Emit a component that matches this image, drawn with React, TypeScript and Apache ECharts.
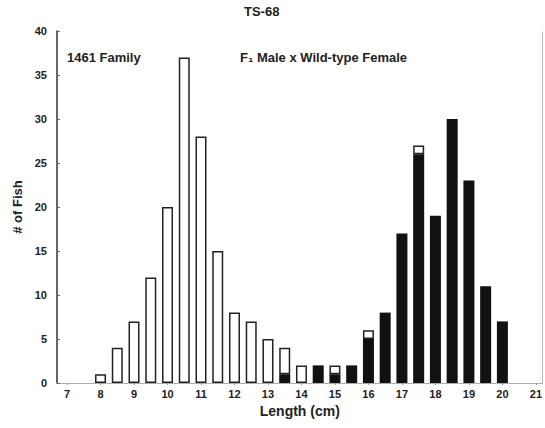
import React, { useEffect, useRef } from "react";
import * as echarts from "echarts";

// Length bins (cm), one bar per half centimetre
const lengths = [8, 8.5, 9, 9.5, 10, 10.5, 11, 11.5, 12, 12.5, 13, 13.5, 14, 14.5, 15, 15.5, 16, 16.5, 17, 17.5, 18, 18.5, 19, 19.5, 20];
// Filled (black) bars, counts per bin; null = no fish
const filledCounts = [null, null, null, null, null, null, null, null, null, null, null, 1, null, 2, 1, 2, 5, 8, 17, 26, 19, 30, 23, 11, 7];
// Open (white) bars, stacked on top of the filled ones
const openCounts = [1, 4, 7, 12, 20, 37, 28, 15, 8, 7, 5, 3, 2, null, 1, null, 1, null, null, 1, null, null, null, null, null];
// Axis tick labels
const xTicks = [7, 8, 9, 10, 11, 12, 13, 14, 15, 16, 17, 18, 19, 20, 21];
const yTicks = [0, 5, 10, 15, 20, 25, 30, 35, 40];

const FONT = "'Liberation Sans', Arial, sans-serif";

export default function App() {
  const ref = useRef<HTMLDivElement>(null);

  useEffect(() => {
    if (!ref.current) return;
    const chart = echarts.init(ref.current, null, { renderer: "svg" });

    // Each item is [count, length]; the count column comes first so the
    // stack is computed on the count (y) dimension.
    const toPairs = (vals: (number | null)[]) =>
      lengths.map((x, i) => [vals[i] == null ? "-" : vals[i], x]);

    const labelStyle = { fontFamily: FONT, fontWeight: "bold" as const, fontSize: 11, color: "#222" };

    chart.setOption({
      animation: false,
      backgroundColor: "#fff",
      grid: { left: 57, right: 1, top: 31, bottom: 45 },
      graphic: [
        { type: "text", left: 244, top: 5, style: { text: "TS-68", font: `bold 13px ${FONT}`, fill: "#222" } },
        { type: "text", left: 67, top: 51, style: { text: "1461 Family", font: `bold 13px ${FONT}`, fill: "#222" } },
        { type: "text", left: 240, top: 51, style: { text: "F\u2081 Male x Wild-type Female", font: `bold 13px ${FONT}`, fill: "#222" } },
      ],
      xAxis: [
        {
          type: "value",
          min: 6.7,
          max: 21.2,
          name: "Length (cm)",
          nameLocation: "middle",
          nameGap: 21,
          nameTextStyle: { fontFamily: FONT, fontWeight: "bold", fontSize: 14, color: "#222" },
          axisLine: { show: true, lineStyle: { color: "#999", type: "dotted", width: 1 } },
          axisTick: { show: true, customValues: xTicks, length: 2, lineStyle: { color: "#999" } },
          axisLabel: { customValues: xTicks, margin: 5, ...labelStyle },
          splitLine: { show: false },
        },
        {
          type: "value",
          position: "top",
          min: 6.7,
          max: 21.2,
          axisLine: { show: true, lineStyle: { color: "#aaa", type: "dotted", width: 1 } },
          axisTick: { show: false },
          axisLabel: { show: false },
          splitLine: { show: false },
        },
      ],
      yAxis: [
        {
          type: "value",
          min: 0,
          max: 40,
          interval: 5,
          name: "# of Fish",
          nameLocation: "middle",
          nameGap: 30,
          nameTextStyle: { fontFamily: FONT, fontWeight: "bold", fontSize: 13, color: "#222" },
          axisLine: { show: true, lineStyle: { color: "#333", width: 1.5 } },
          axisTick: { show: true, inside: true, length: 3, lineStyle: { color: "#666" } },
          axisLabel: {
            margin: 10,
            ...labelStyle,
            formatter: (v: number) => (yTicks.includes(v) ? String(v) : ""),
          },
          splitLine: { show: false },
        },
        {
          type: "value",
          position: "right",
          min: 0,
          max: 40,
          axisLine: { show: true, lineStyle: { color: "#aaa", type: "dotted", width: 1 } },
          axisTick: { show: false },
          axisLabel: { show: false },
          splitLine: { show: false },
        },
      ],
      series: [
        {
          name: "Filled",
          type: "bar",
          stack: "fish",
          barWidth: 11,
          encode: { x: 1, y: 0 },
          data: toPairs(filledCounts),
          itemStyle: { color: "#111" },
        },
        {
          name: "Open",
          type: "bar",
          stack: "fish",
          barWidth: 11,
          encode: { x: 1, y: 0 },
          data: toPairs(openCounts),
          itemStyle: { color: "#fff", borderColor: "#222", borderWidth: 1.5 },
        },
      ],
    });

    return () => chart.dispose();
  }, []);

  return (
    <div
      ref={ref}
      style={{ position: "fixed", left: 0, top: 0, width: 545, height: 428, background: "#fff" }}
    />
  );
}
